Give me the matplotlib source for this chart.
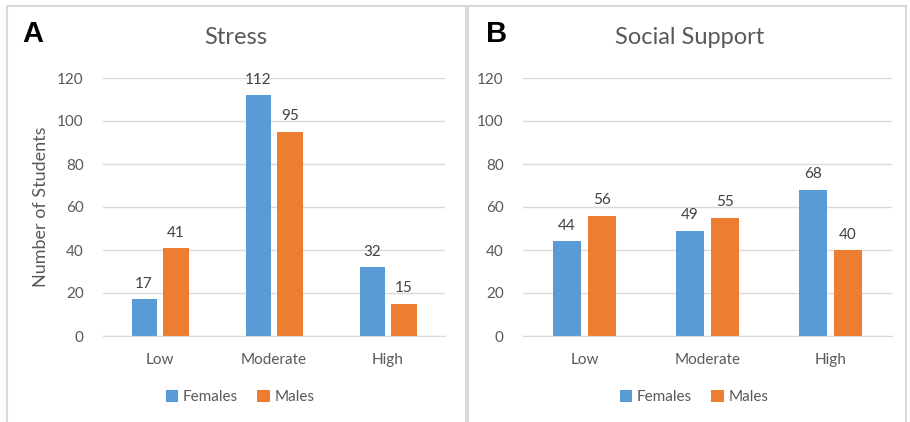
import matplotlib.pyplot as plt
from matplotlib.patches import Rectangle
import numpy as np

# Data
categories = ['Low', 'Moderate', 'High']
stress_females = [17, 112, 32]
stress_males = [41, 95, 15]
support_females = [44, 49, 68]
support_males = [56, 55, 40]

blue = '#5B9BD5'
orange = '#ED7D31'
grey_text = '#595959'
grid_col = '#D9D9D9'
font = 'Lato'

W, H = 910, 422
fig = plt.figure(figsize=(W / 100, H / 100), dpi=100)


def px_axes(x0, x1, ytop, ybot):
    return fig.add_axes([x0 / W, (H - ybot) / H, (x1 - x0) / W, (ybot - ytop) / H])


# panel borders
fig.patches.append(Rectangle((7 / W, -0.01), (466 - 7) / W, (H - 6) / H + 0.01,
                             transform=fig.transFigure, fill=False,
                             edgecolor=grid_col, lw=1.5))
fig.patches.append(Rectangle((468 / W, -0.01), (906 - 468) / W, (H - 6) / H + 0.01,
                             transform=fig.transFigure, fill=False,
                             edgecolor=grid_col, lw=1.5))


def panel(ax, fem, mal, title, letter, title_x, letter_x, width, offset, legend_x, ylabel):
    x = np.arange(len(categories))
    b1 = ax.bar(x - offset, fem, width, color=blue, label='Females')
    b2 = ax.bar(x + offset, mal, width, color=orange, label='Males')
    for bars in (b1, b2):
        for rect in bars:
            ax.annotate(f'{rect.get_height():.0f}',
                        (rect.get_x() + rect.get_width() / 2, rect.get_height()),
                        xytext=(0, 6), textcoords='offset points',
                        ha='center', va='bottom', fontsize=11,
                        color='#404040', family=font)
    ax.set_xlim(-0.5, 2.5)
    ax.set_ylim(0, 120)
    ax.set_yticks(range(0, 121, 20))
    ax.set_xticks(x)
    ax.set_xticklabels(categories)
    ax.yaxis.grid(True, color=grid_col, lw=1)
    ax.set_axisbelow(True)
    for s in ['top', 'right', 'left']:
        ax.spines[s].set_visible(False)
    ax.spines['bottom'].set_color(grid_col)
    ax.tick_params(axis='both', length=0, labelsize=11, labelcolor=grey_text)
    ax.tick_params(axis='x', pad=12)
    ax.tick_params(axis='y', pad=14)
    for lab in ax.get_xticklabels() + ax.get_yticklabels():
        lab.set_family(font)
    if ylabel:
        ax.set_ylabel(ylabel, fontsize=13, color=grey_text, family=font, labelpad=6)
    fig.text(title_x / W, (H - 38) / H, title, ha='center', va='center',
             fontsize=17, color=grey_text, family=font)
    fig.text(letter_x / W, (H - 34) / H, letter, ha='left', va='center',
             fontsize=21, fontweight='bold', color='black', family='Liberation Sans')
    ax.legend(loc='center', bbox_to_anchor=(legend_x / W, (H - 397) / H),
              bbox_transform=fig.transFigure, ncol=2, frameon=False,
              prop={'family': font, 'size': 11}, labelcolor=grey_text,
              handlelength=0.8, handleheight=0.8, handletextpad=0.3,
              columnspacing=1.3)


axA = px_axes(103, 445, 78, 336)
panel(axA, stress_females, stress_males, 'Stress', 'A', 236, 22, 0.22, 0.14, 240,
      'Number of Students')
axB = px_axes(523, 892, 78, 336)
panel(axB, support_females, support_males, 'Social Support', 'B', 690, 486, 0.228, 0.142, 694,
      None)

plt.savefig('out.png', dpi=100)
